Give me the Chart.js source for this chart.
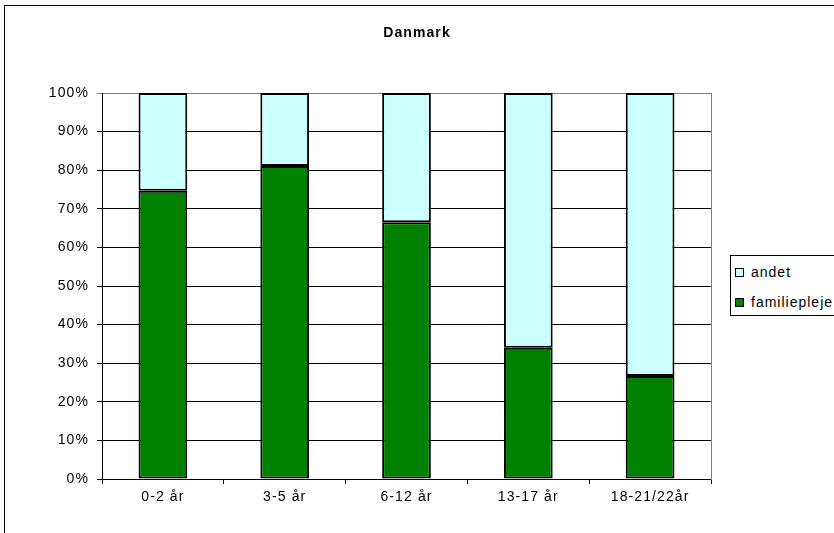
<!DOCTYPE html>
<html>
<head>
<meta charset="utf-8">
<script src="https://cdn.jsdelivr.net/npm/chart.js@4.4.0/dist/chart.umd.min.js"></script>
<style>
  body { margin: 0; background: #fff; }
  #wrap { position: relative; width: 834px; height: 533px; overflow: hidden; }
  #legend {
    position: absolute; left: 730px; top: 255px; width: 120px; height: 59px;
    border: 1px solid #000; background: #fff;
    font-family: "Liberation Sans", Arial, sans-serif; font-size: 14px; letter-spacing: 1px; color: #000;
  }
  .item { position: absolute; left: 4px; height: 16px; line-height: 16px; white-space: nowrap; }
  .sw { display: inline-block; width: 7px; height: 7px; border: 1px solid #000; margin-right: 7px; vertical-align: 0px; }
</style>
</head>
<body>
<div id="wrap">
  <canvas id="chart" width="834" height="533"></canvas>
  <div id="legend"></div>
</div>
<script>
const categories = ["0-2 år", "3-5 år", "6-12 år", "13-17 år", "18-21/22år"];
// share of children in foster care (familiepleje), in percent
const familiepleje = [74.7, 81.1, 66.5, 34.0, 26.7];
const andet = [25.3, 18.9, 33.5, 66.0, 73.3];
const y_ticks = [0, 10, 20, 30, 40, 50, 60, 70, 80, 90, 100];

const font_family = '"Liberation Sans", Arial, sans-serif';

// the reference text is rendered slightly spaced out
const spacing_plugin = {
  id: "spacing",
  beforeUpdate: (chart) => { chart.ctx.letterSpacing = "1.1px"; },
  beforeDraw: (chart) => { chart.ctx.letterSpacing = "1.1px"; },
};

// outer frame of the chart
const frame_plugin = {
  id: "frame",
  afterDraw: (chart) => {
    const ctx = chart.ctx;
    ctx.save();
    ctx.strokeStyle = "#000";
    ctx.lineWidth = 1;
    ctx.strokeRect(4.5, 5.5, 840, 540);
    ctx.restore();
  },
};

const data_chart = {
  labels: categories,
  datasets: [
    {
      label: "familiepleje",
      data: familiepleje,
      backgroundColor: "#008000",
      borderColor: "#000",
      borderWidth: 2,
      borderSkipped: false,
      barPercentage: 0.4,
      categoryPercentage: 1,
    },
    {
      label: "andet",
      data: andet,
      backgroundColor: "#CCFFFF",
      borderColor: "#000",
      borderWidth: 2,
      borderSkipped: false,
      barPercentage: 0.4,
      categoryPercentage: 1,
    },
  ],
};

const config_chart = {
  type: "bar",
  data: data_chart,
  plugins: [spacing_plugin, frame_plugin],
  options: {
    responsive: false,
    animation: false,
    layout: { padding: 0 },
    plugins: {
      legend: { display: false },
      tooltip: { enabled: false },
      title: {
        display: true,
        text: "Danmark",
        color: "#000",
        font: { family: font_family, size: 14, weight: "bold" },
        padding: { top: 25, bottom: 51.2 },
      },
    },
    scales: {
      x: {
        stacked: true,
        afterFit: (scale) => { scale.height = 54; },
        border: { color: "#000" },
        grid: { drawOnChartArea: false, drawTicks: true, tickLength: 5, color: "#000" },
        ticks: { color: "#000", font: { family: font_family, size: 14 }, padding: 5, maxRotation: 0 },
      },
      y: {
        stacked: true,
        min: 0,
        max: 100,
        afterFit: (scale) => { scale.width = 102; },
        afterBuildTicks: (scale) => { scale.ticks = y_ticks.map((v) => ({ value: v })); },
        border: { color: "#000" },
        grid: {
          tickLength: 5,
          color: (c) => (c.tick && c.tick.value === 100 ? "#808080" : "#000"),
        },
        ticks: {
          color: "#000",
          font: { family: font_family, size: 14 },
          padding: 8,
          callback: (v) => v + "%",
        },
      },
      // empty right axis: keeps room for the legend and gives the grey plot edge
      y_right: {
        position: "right",
        min: 0,
        max: 100,
        afterFit: (scale) => { scale.width = 123; },
        border: { color: "#808080" },
        grid: { display: false },
        ticks: { display: false },
      },
    },
  },
};

var ctx_chart = document.getElementById("chart");
var bar_chart = new Chart(ctx_chart, config_chart);

// legend in the same order as the reference (top series first)
const legend_el = document.getElementById("legend");
[["andet", "#CCFFFF", 8], ["familiepleje", "#008000", 38]].forEach(([name, color, top]) => {
  const item = document.createElement("div");
  item.className = "item";
  item.style.top = top + "px";
  item.innerHTML = `<span class="sw" style="background:${color}"></span>${name}`;
  legend_el.appendChild(item);
});
</script>
</body>
</html>
